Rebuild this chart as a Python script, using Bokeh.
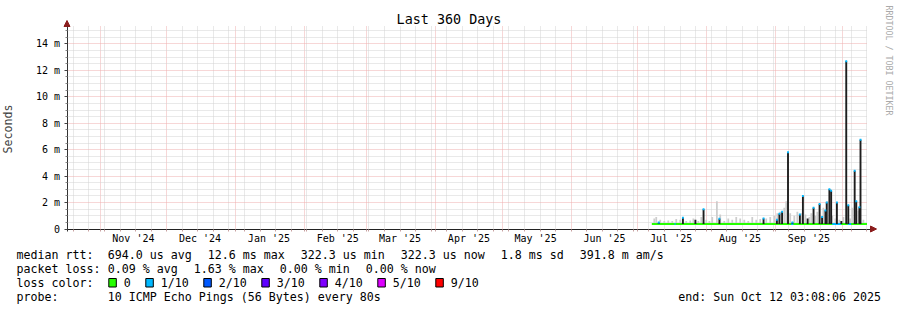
import pandas as pd
from bokeh.plotting import figure
from bokeh.models import (Range1d, FixedTicker, Grid, Arrow, NormalHead,
                          DatetimeAxis, LinearAxis)
from bokeh.embed import file_html
from bokeh.resources import INLINE
from bokeh.core.properties import value

# ---------------- data ----------------
graph_start = "2024-10-17 03:08:06"
graph_end = "2025-10-12 03:08:06"
title_text = "Last 360 Days"
y_label = "Seconds"
watermark = "RRDTOOL / TOBI OETIKER"

y_tick_values = [0, 2, 4, 6, 8, 10, 12, 14]          # milliseconds
y_tick_labels = ["0", "2 m", "4 m", "6 m", "8 m", "10 m", "12 m", "14 m"]
y_top_ms = 15.32

month_starts = ["2024-11-01", "2024-12-01", "2025-01-01", "2025-02-01", "2025-03-01",
                "2025-04-01", "2025-05-01", "2025-06-01", "2025-07-01", "2025-08-01",
                "2025-09-01", "2025-10-01"]
month_labels = ["Nov '24", "Dec '24", "Jan '25", "Feb '25", "Mar '25", "Apr '25",
                "May '25", "Jun '25", "Jul '25", "Aug '25", "Sep '25"]
first_week_line = "2024-10-20"

# median rtt line segments (ms) with loss class index
median_seg_start = ["2025-07-07 07:00", "2025-07-17 12:00", "2025-09-08 00:00",
                    "2025-09-26 12:00", "2025-10-03 12:00"]
median_seg_end = ["2025-10-12 03:08", "2025-07-18 00:00", "2025-09-09 00:00",
                  "2025-09-30 12:00", "2025-10-05 00:00"]
median_seg_ms = [0.38, 0.38, 0.38, 0.38, 0.38]
median_seg_loss = [0, 1, 1, 1, 1]

# dark smoke spikes: time, top (ms), loss class of median at top (-1 = none)
spike_time = ["2025-07-10 10:00", "2025-07-21 07:00", "2025-07-26 22:00", "2025-07-30 14:00",
              "2025-08-06 17:00", "2025-08-26 14:00", "2025-09-01 14:00", "2025-09-02 17:00",
              "2025-09-03 22:00", "2025-09-06 14:00", "2025-09-08 14:00", "2025-09-11 22:00",
              "2025-09-13 07:00", "2025-09-15 10:00", "2025-09-18 02:00", "2025-09-20 19:00",
              "2025-09-21 22:00", "2025-09-23 10:00", "2025-09-24 00:00", "2025-09-25 05:00",
              "2025-09-26 00:00", "2025-09-28 14:00", "2025-09-30 14:00", "2025-10-02 19:00",
              "2025-10-03 17:00", "2025-10-06 14:00", "2025-10-07 07:00", "2025-10-08 17:00",
              "2025-10-09 05:00"]
spike_top = [0.5, 0.85, 0.7, 1.5,
             0.77, 0.8, 0.7, 1.15,
             1.3, 5.8, 0.5, 1.1,
             2.5, 0.8, 1.6, 1.9,
             0.9, 1.4, 2.0, 3.0,
             2.9, 2.0, 0.6, 12.7,
             1.8, 4.4, 2.1, 1.65,
             6.75]
spike_loss = [1, 1, -1, 1,
              1, 1, 1, 1,
              1, 1, 1, 1,
              1, -1, 1, 1,
              1, 1, 1, 1,
              1, 1, -1, 1,
              1, 1, 1, 1,
              1]

# light smoke (ping spread) tops, ms
smoke_time = ["2025-07-08 10:00", "2025-07-09 07:00", "2025-07-11 02:00", "2025-07-12 22:00",
              "2025-07-14 17:00", "2025-07-16 12:00", "2025-07-18 07:00", "2025-07-20 02:00",
              "2025-07-22 19:00", "2025-07-24 14:00", "2025-07-26 00:00", "2025-07-28 05:00",
              "2025-07-29 14:00", "2025-07-31 19:00", "2025-08-02 05:00", "2025-08-03 12:00",
              "2025-08-05 14:00", "2025-08-07 02:00", "2025-08-08 22:00", "2025-08-10 17:00",
              "2025-08-12 12:00", "2025-08-14 07:00", "2025-08-16 02:00", "2025-08-17 22:00",
              "2025-08-19 17:00", "2025-08-21 12:00", "2025-08-23 07:00", "2025-08-25 02:00",
              "2025-08-27 19:00", "2025-08-29 14:00", "2025-08-31 10:00", "2025-09-01 19:00",
              "2025-09-03 02:00", "2025-09-04 22:00", "2025-09-05 19:00", "2025-09-07 14:00",
              "2025-09-09 10:00", "2025-09-10 19:00", "2025-09-12 14:00", "2025-09-14 10:00",
              "2025-09-16 05:00", "2025-09-17 02:00", "2025-09-18 22:00", "2025-09-19 19:00",
              "2025-09-22 12:00", "2025-09-24 07:00", "2025-09-26 12:00", "2025-09-27 22:00",
              "2025-09-29 17:00", "2025-10-01 12:00", "2025-10-04 14:00", "2025-10-05 12:00",
              "2025-10-08 05:00", "2025-10-10 12:00"]
smoke_top = [0.8, 0.9, 0.7, 0.6,
             0.65, 0.6, 0.75, 0.7,
             0.6, 0.65, 0.8, 0.6,
             0.9, 0.7, 0.6, 0.9,
             2.1, 1.1, 0.6, 0.8,
             0.7, 0.9, 0.8, 0.7,
             0.6, 0.9, 0.7, 0.75,
             0.8, 0.9, 1.0, 1.2,
             1.3, 1.6, 2.1, 1.2,
             1.0, 1.3, 1.2, 1.1,
             0.9, 1.2, 1.0, 1.3,
             1.6, 2.1, 1.0, 0.8,
             0.7, 0.9, 0.8, 1.6,
             1.4, 0.7]
smoke_floor_ms = 0.32

loss_labels = ["0", "1/10", "2/10", "3/10", "4/10", "5/10", "9/10"]
loss_colors = ["#26ff00", "#00b8ff", "#0059ff", "#5e00ff", "#7e00ff", "#dd00ff", "#ff0000"]

legend_rows = [
    ["median rtt:", "694.0 us avg", "12.6 ms max", "322.3 us min", "322.3 us now", "1.8 ms sd", "391.8 m am/s"],
    ["packet loss:", "0.09 % avg", "1.63 % max", "0.00 % min", "0.00 % now"],
]
loss_row_title = "loss color:"
probe_row = ["probe:", "10 ICMP Echo Pings (56 Bytes) every 80s"]
end_text = "end: Sun Oct 12 03:08:06 2025"

# ---------------- layout constants (pixels) ----------------
W, H = 897, 310
FX0, FX1 = 66.5, 866.5      # chart area left/right
FY0, FY1 = 26.0, 228.5      # chart area top/bottom
MS_DAY = 86400000.0
FONT = "DejaVu Sans Mono"


def to_ms(seq):
    return [float(pd.Timestamp(t).value // 10**6) for t in seq]


t0_ms = to_ms([graph_start])[0]
t1_ms = to_ms([graph_end])[0]
mspp = (t1_ms - t0_ms) / (FX1 - FX0)          # ms per pixel
ppm = (FY1 - FY0) / y_top_ms                  # pixels per millisecond of rtt

month_ms = to_ms(month_starts)
mid_ms = [m + 15 * MS_DAY for m in month_ms[:len(month_labels)]]
week_ms = [w for w in to_ms(pd.date_range(first_week_line, graph_end, freq="7D")) if w not in month_ms]
y_minor = [v / 2 for v in range(1, 31) if (v / 2) not in y_tick_values and v / 2 < y_top_ms]

p = figure(width=W, height=H, x_axis_type=None, y_axis_type=None,
           x_range=Range1d(t0_ms - FX0 * mspp, t1_ms + (W - FX1) * mspp),
           y_range=Range1d(-(H - FY1) / ppm, y_top_ms + FY0 / ppm),
           output_backend="svg", toolbar_location=None, min_border=0)
p.outline_line_color = None
p.background_fill_color = "white"
p.border_fill_color = "white"
p.extra_x_ranges = {"px": Range1d(0, W)}
p.extra_y_ranges = {"px": Range1d(H, 0)}

MGRID = dict(color="#eeaeae", alpha=1.0, dash="1 1")
GRID = dict(color="#d2d2d2", alpha=1.0, dash="1 1")

# ---------------- grid ----------------
if "cross_bounds" in Grid.properties():
    vgrid = Grid(dimension=0, ticker=FixedTicker(ticks=month_ms, minor_ticks=week_ms),
                 bounds=(t0_ms, t1_ms), cross_bounds=(0, y_top_ms),
                 grid_line_color=MGRID["color"], grid_line_alpha=MGRID["alpha"], grid_line_dash=MGRID["dash"],
                 minor_grid_line_color=GRID["color"], minor_grid_line_alpha=GRID["alpha"],
                 minor_grid_line_dash=GRID["dash"])
    hgrid = Grid(dimension=1, ticker=FixedTicker(ticks=y_tick_values[1:], minor_ticks=y_minor),
                 bounds=(0, y_top_ms), cross_bounds=(t0_ms, t1_ms),
                 grid_line_color=MGRID["color"], grid_line_alpha=MGRID["alpha"], grid_line_dash=MGRID["dash"],
                 minor_grid_line_color=GRID["color"], minor_grid_line_alpha=GRID["alpha"],
                 minor_grid_line_dash=GRID["dash"])
    p.add_layout(vgrid)
    p.add_layout(hgrid)
else:
    for xs, st in ((week_ms, GRID), (month_ms, MGRID)):
        p.segment(x0=xs, x1=xs, y0=[0] * len(xs), y1=[y_top_ms] * len(xs),
                  line_color=st["color"], line_alpha=st["alpha"], line_dash=st["dash"], level="underlay")
    for ys, st in ((y_minor, GRID), (y_tick_values[1:], MGRID)):
        p.segment(x0=[t0_ms] * len(ys), x1=[t1_ms] * len(ys), y0=ys, y1=ys,
                  line_color=st["color"], line_alpha=st["alpha"], line_dash=st["dash"], level="underlay")

# ---------------- axes (real axes pinned to the chart origin) ----------------
xa = DatetimeAxis(fixed_location=0, bounds=(t0_ms - 1.5 * mspp, t1_ms + 3.5 * mspp))
xa.ticker = FixedTicker(ticks=mid_ms, minor_ticks=week_ms + month_ms)
xa.major_label_overrides = {m: lab for m, lab in zip(mid_ms, month_labels)}
xa.major_tick_line_color = None
xa.major_tick_out = 0
xa.major_tick_in = 0
xa.minor_tick_out = 2
xa.minor_tick_in = 0
xa.minor_tick_line_color = "#c8a0a0"
xa.major_label_standoff = 2
xa.major_label_text_font = FONT
xa.major_label_text_font_size = "10px"
xa.major_label_text_color = "black"
xa.axis_line_color = "#222222"
p.add_layout(xa, "below")

ya = LinearAxis(fixed_location=t0_ms, bounds=(-2.5 / ppm, y_top_ms))
ya.ticker = FixedTicker(ticks=y_tick_values, minor_ticks=y_minor)
ya.major_label_overrides = {v: lab for v, lab in zip(y_tick_values, y_tick_labels)}
ya.major_tick_out = 3
ya.major_tick_in = 0
ya.minor_tick_out = 2
ya.minor_tick_in = 0
ya.major_tick_line_color = "#444444"
ya.minor_tick_line_color = "#888888"
ya.major_label_standoff = 4
ya.major_label_text_font = FONT
ya.major_label_text_font_size = "10px"
ya.major_label_text_color = "black"
ya.axis_line_color = "#333333"
ya.axis_label = y_label
ya.axis_label_text_font = FONT
ya.axis_label_text_font_size = "11.6px"
ya.axis_label_text_font_style = "normal"
ya.axis_label_standoff = 18
p.add_layout(ya, "left")

# ---------------- data marks ----------------
p.vbar(x=pd.to_datetime(smoke_time), top=smoke_top, bottom=smoke_floor_ms, width=0.8 * MS_DAY,
       fill_color="#cdcdcd", line_color=None)

p.segment(x0=pd.to_datetime(median_seg_start), x1=pd.to_datetime(median_seg_end),
          y0=median_seg_ms, y1=median_seg_ms,
          line_color=[loss_colors[i] for i in median_seg_loss], line_width=2)

p.vbar(x=pd.to_datetime(spike_time), top=spike_top, bottom=median_seg_ms[0], width=0.85 * MS_DAY,
       fill_color="#1e1e1e", line_color=None)

cap_t = [t for t, l in zip(spike_time, spike_loss) if l >= 0]
cap_y = [v for v, l in zip(spike_top, spike_loss) if l >= 0]
cap_c = [loss_colors[l] for l in spike_loss if l >= 0]
p.rect(x=pd.to_datetime(cap_t), y=cap_y, width=0.85 * MS_DAY, height=2, height_units="screen",
       fill_color=cap_c, line_color=None)

# ---------------- title, watermark, arrows (pixel space) ----------------
PX = dict(x_range_name="px", y_range_name="px")
p.text(x=[448.5], y=[19.3], text=[title_text], text_font=value(FONT), text_font_size="13.4px",
       text_align="center", text_baseline="middle", text_color="black", **PX)
p.text(x=[888.3], y=[5], text=[watermark], angle=-1.5707963, text_font=value(FONT),
       text_font_size="8.3px", text_align="left", text_baseline="middle", text_color="#aaaaaa", **PX)
p.add_layout(Arrow(end=NormalHead(size=6, fill_color="#8b1c1c", line_color="#8b1c1c"),
                   x_start=FX0, y_start=FY0, x_end=FX0, y_end=FY0 - 6,
                   line_color="#333333", line_width=1, **PX))
p.add_layout(Arrow(end=NormalHead(size=6, fill_color="#8b1c1c", line_color="#8b1c1c"),
                   x_start=FX1 + 3.5, y_start=FY1, x_end=FX1 + 9.5, y_end=FY1,
                   line_color="#222222", line_width=1, **PX))

# ---------------- legend block (pixel space) ----------------
CW = 7.0
GAP = 16.0
col0_x = 16.0
col1_x = 107.3
row_mid = [254.3, 268.3, 282.3, 296.3]

tx, ty, tt = [], [], []
for row, ym in zip(legend_rows, row_mid[:2]):
    tx.append(col0_x); ty.append(ym); tt.append(row[0])
    x = col1_x
    for tok in row[1:]:
        tx.append(x); ty.append(ym); tt.append(tok)
        x += len(tok) * CW + GAP
tx.append(col0_x); ty.append(row_mid[2]); tt.append(loss_row_title)
tx.append(col0_x); ty.append(row_mid[3]); tt.append(probe_row[0])
tx.append(col1_x); ty.append(row_mid[3]); tt.append(probe_row[1])

box_l, box_r = [], []
bx = 108.3
for lab in loss_labels:
    box_l.append(bx); box_r.append(bx + 7.5)
    tx.append(bx + 15); ty.append(row_mid[2]); tt.append(lab)
    bx = bx + 15 + len(lab) * CW + 15

p.text(x=tx, y=ty, text=tt, text_font=value(FONT), text_font_size="11.63px",
       text_baseline="middle", text_align="left", text_color="black", **PX)
p.text(x=[880.6], y=[row_mid[3]], text=[end_text], text_font=value(FONT),
       text_font_size="11.63px", text_baseline="middle", text_align="right", text_color="black", **PX)
p.quad(left=box_l, right=box_r, top=[278.0] * len(box_l), bottom=[286.5] * len(box_l),
       fill_color=loss_colors, line_color="black", line_width=1, **PX)

open("out.html", "w").write(file_html(p, INLINE))
